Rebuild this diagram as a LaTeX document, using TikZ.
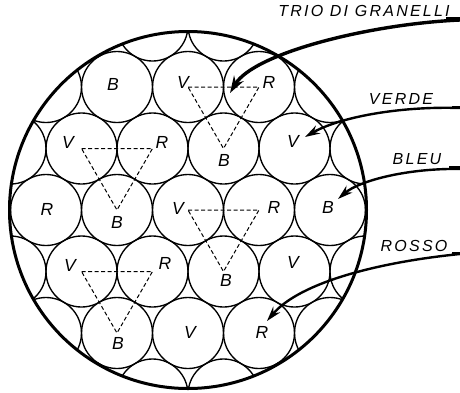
\documentclass[tikz,border=0pt]{standalone}
\usepackage{fontspec}
\newfontfamily\sidefont{Liberation Sans}[LetterSpace=14]
\newfontfamily\cellfont{Liberation Sans}
\usetikzlibrary{arrows.meta}
\begin{document}
\begin{tikzpicture}[x=1pt,y=-1pt,
  grain/.style={line width=1.35pt},
  rim/.style={line width=3pt},
  trio/.style={line width=1pt, dash pattern=on 4pt off 2.5pt},
  lbl/.style={font=\cellfont\itshape\fontsize{17.5}{17.5}\selectfont, inner sep=0pt},
  side/.style={font=\sidefont\itshape\fontsize{16}{16}\selectfont, inner sep=0pt},
  arr/.style={line width=2.4pt, -{Stealth[length=15pt,width=9pt]}},
  uline/.style={line width=1.2pt}]
\useasboundingbox (0,0) rectangle (460,392);
% packing of grains clipped by the outer circle
\begin{scope}
  \clip (188,210) circle (178.5pt);
  \foreach \r in {0,...,6}{
    \foreach \c in {-1,...,7}{
      \pgfmathsetmacro\cx{188+71*(\c-3)+35.5*(1-mod(\r,2))}
      \pgfmathsetmacro\cy{210+61.5*(\r-3)}
      \draw[grain] (\cx,\cy) circle (35.5pt);
    }}
\end{scope}
\draw[rim] (188,210) circle (178.5pt);
% triangle vertices
\coordinate (c13) at (188,87);
\coordinate (c14) at (259,87);
\coordinate (c23) at (223.5,148.5);
\coordinate (c21) at (81.5,148.5);
\coordinate (c22) at (152.5,148.5);
\coordinate (c32) at (117,210);
\coordinate (c33) at (188,210);
\coordinate (c34) at (259,210);
\coordinate (c43) at (223.5,271.5);
\coordinate (c41) at (81.5,271.5);
\coordinate (c42) at (152.5,271.5);
\coordinate (c52) at (117,333);
\draw[trio] (c13) -- (c14) -- (c23) -- cycle;
\draw[trio] (c21) -- (c22) -- (c32) -- cycle;
\draw[trio] (c33) -- (c34) -- (c43) -- cycle;
\draw[trio] (c41) -- (c42) -- (c52) -- cycle;
% grain letters
\node[lbl] (l1) at (113,84) {B};
\node[lbl] (l2) at (183,82) {V};
\node[lbl] (l3) at (269,82) {R};
\node[lbl] (l4) at (68,142) {V};
\node[lbl] (l5) at (162,142) {R};
\node[lbl] (l6) at (224,160) {B};
\node[lbl] (l7) at (293,141) {V};
\node[lbl] (l8) at (47,209) {R};
\node[lbl] (l9) at (117,222) {B};
\node[lbl] (l10) at (178,208) {V};
\node[lbl] (l11) at (274,207) {R};
\node[lbl] (l12) at (328,207) {B};
\node[lbl] (l13) at (70,265) {V};
\node[lbl] (l14) at (165,263) {R};
\node[lbl] (l15) at (226,280) {B};
\node[lbl] (l16) at (293,262) {V};
\node[lbl] (l17) at (118,343) {B};
\node[lbl] (l18) at (190,332) {V};
\node[lbl] (l19) at (262,332) {R};
% side labels
\node[side] (tTrio) at (364,11) {TRIO DI GRANELLI};
\node[side] (tVerde) at (401,99) {VERDE};
\node[side] (tBleu) at (417,159) {BLEU};
\node[side] (tRosso) at (414,246) {ROSSO};
\coordinate (uTrio) at (446,18);
\coordinate (uVerde) at (452,107);
\coordinate (uBleu) at (449,167);
\coordinate (uRosso) at (452,253);
\coordinate (sTrio) at (460,20);
\coordinate (sVerde) at (460,108);
\coordinate (sBleu) at (460,169);
\coordinate (sRosso) at (460,254);
\coordinate (eTrio) at (230,93);
\coordinate (eVerde) at (305,137);
\coordinate (eBleu) at (338,199);
\coordinate (eRosso) at (267,321);
\draw[uline] (uTrio) -- (sTrio |- uTrio);
\draw[uline] (uVerde) -- (sVerde |- uVerde);
\draw[uline] (uBleu) -- (sBleu |- uBleu);
\draw[uline] (uRosso) -- (sRosso |- uRosso);
\draw[arr, line width=3.4pt, -{Stealth[length=17pt,width=11pt]}] (sTrio) .. controls (370,24) and (254,53) .. (eTrio);
\draw[arr] (sVerde) .. controls (400,106) and (340,117) .. (eVerde);
\draw[arr] (sBleu) .. controls (410,168) and (360,180) .. (eBleu);
\draw[arr] (sRosso) .. controls (380,262) and (300,282) .. (eRosso);
\end{tikzpicture}
\end{document}
